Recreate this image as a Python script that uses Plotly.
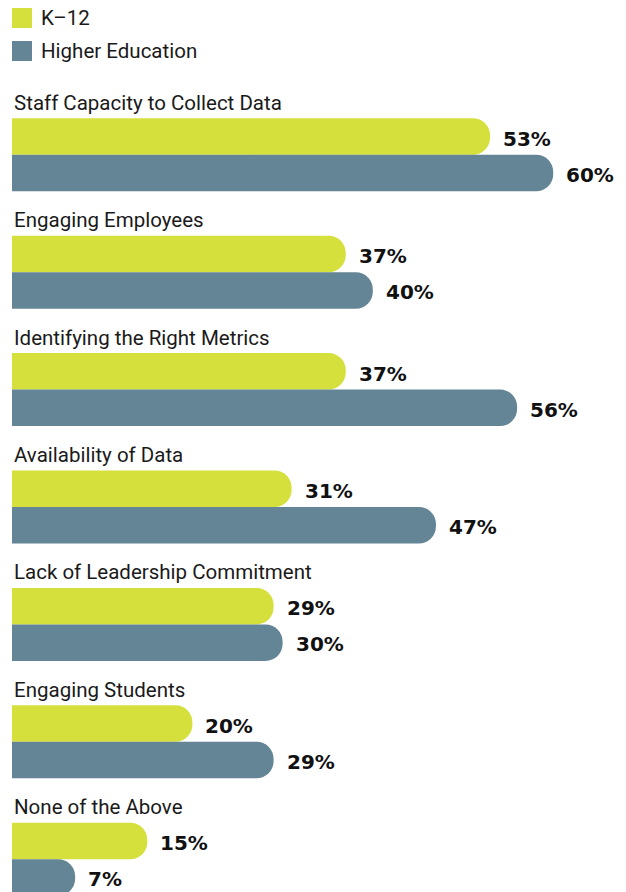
import plotly.graph_objects as go

categories = [
    "Staff Capacity to Collect Data",
    "Engaging Employees",
    "Identifying the Right Metrics",
    "Availability of Data",
    "Lack of Leadership Commitment",
    "Engaging Students",
    "None of the Above",
]
k12 = [53, 37, 37, 31, 29, 20, 15]
higher_ed = [60, 40, 56, 47, 30, 29, 7]
series_names = ["K\u201312", "Higher Education"]
series_colors = ["#d6e03d", "#648595"]

W, H = 626, 892
ML = 12
PX_PER_PCT = 9.02
PITCH = 117.4
CENTER0 = 154.8

label_font = dict(family="Roboto, sans-serif", size=20.5, color="#1a1a1a")
value_font = dict(family="DejaVu Sans, sans-serif", size=20, color="#111111")

fig = go.Figure()
for name, vals, col in zip(series_names, [k12, higher_ed], series_colors):
    fig.add_trace(go.Bar(
        x=vals, y=categories, name=name, orientation="h",
        marker=dict(color=col, line=dict(width=0), cornerradius=17),
        showlegend=False, hoverinfo="x+y",
    ))

annotations = []
for i, cat in enumerate(categories):
    annotations.append(dict(x=0, xref="paper", y=cat, yref="y", text=cat,
                            showarrow=False, xanchor="left", yanchor="middle",
                            yshift=52, font=label_font))
    for vals, shift in ((k12, 16), (higher_ed, -20)):
        annotations.append(dict(x=vals[i], xref="x", y=cat, yref="y",
                                text=f"<b>{vals[i]}%</b>", showarrow=False,
                                xanchor="left", yanchor="middle",
                                xshift=11, yshift=shift, font=value_font))

# manual legend
shapes = []
legend_rows = [18, 51]
plot_w = W - ML
for name, col, cy in zip(series_names, series_colors, legend_rows):
    shapes.append(dict(type="rect", xref="paper", yref="paper",
                       x0=0, x1=20 / plot_w,
                       y0=1 - (cy + 10) / H, y1=1 - (cy - 10) / H,
                       fillcolor=col, line=dict(width=0)))
    annotations.append(dict(x=27 / plot_w, xref="paper", y=1 - cy / H, yref="paper",
                            text=name, showarrow=False, xanchor="left", yanchor="middle",
                            font=label_font))

top_idx = -CENTER0 / PITCH
bot_idx = top_idx + H / PITCH

fig.update_layout(
    width=W, height=H,
    margin=dict(l=ML, r=0, t=0, b=0),
    paper_bgcolor="white", plot_bgcolor="white",
    barmode="group", bargap=1 - 73 / PITCH, bargroupgap=0,
    xaxis=dict(range=[0, plot_w / PX_PER_PCT], visible=False, fixedrange=True),
    yaxis=dict(range=[bot_idx, top_idx], visible=False, type="category",
               categoryorder="array", categoryarray=categories, fixedrange=True),
    annotations=annotations, shapes=shapes,
    showlegend=False,
)

fig.write_html("out.html", config={"displayModeBar": False},
               post_script="document.body.style.margin='0';document.body.style.overflow='hidden';")
